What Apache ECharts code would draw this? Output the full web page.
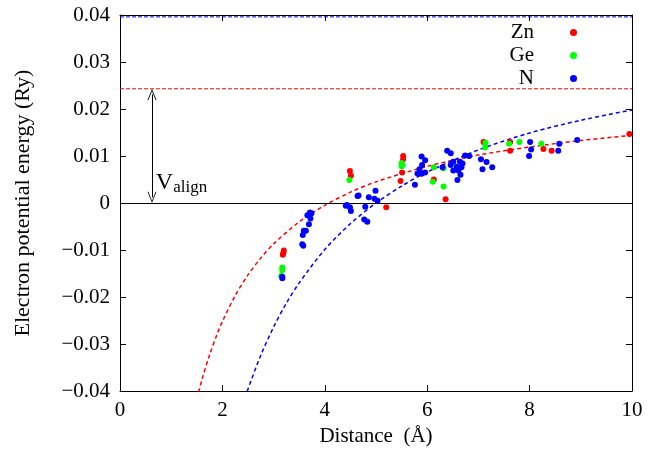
<!DOCTYPE html>
<html><head><meta charset="utf-8">
<script src="https://cdn.jsdelivr.net/npm/echarts@6/dist/echarts.min.js"></script>
<style>html,body{margin:0;padding:0;background:#fff}#c{width:648px;height:463px}</style>
</head><body><div id="c"></div>
<script>
// ---- data ----
const xTickLabels = ['0', '2', '4', '6', '8', '10'];
const yTickLabels = ['\u22120.04', '\u22120.03', '\u22120.02', '\u22120.01', '0', '0.01', '0.02', '0.03', '0.04'];
const seriesNames = ['Zn', 'Ge', 'N'];

const znPoints = [
  [3.20, -0.0101], [3.19, -0.0107], [3.18, -0.0110],
  [4.49, 0.0068], [4.51, 0.0058],
  [5.20, -0.0009],
  [5.53, 0.0100], [5.53, 0.0093], [5.51, 0.0065], [5.48, 0.0047],
  [6.13, 0.0050], [6.36, 0.0008],
  [7.10, 0.0130], [7.62, 0.0130], [7.62, 0.0111],
  [8.27, 0.0115], [8.43, 0.0111], [9.95, 0.0147]
];
const gePoints = [
  [3.17, -0.0137], [3.17, -0.0143], [3.15, -0.0155],
  [4.48, 0.0049],
  [5.50, 0.0085], [5.50, 0.0078], [5.52, 0.0081],
  [6.11, 0.0045], [6.32, 0.0035], [6.13, 0.0076], [6.32, 0.0074],
  [7.14, 0.0128], [7.13, 0.0118],
  [7.60, 0.0126], [7.80, 0.0130], [8.23, 0.0126]
];
const nPoints = [
  [3.17, -0.0160], [3.17, -0.0157],
  [3.58, -0.0091], [3.56, -0.0088], [3.57, -0.0068], [3.59, -0.0059], [3.63, -0.0059],
  [3.69, -0.0045], [3.72, -0.0033], [3.66, -0.0026], [3.71, -0.0020], [3.74, -0.0022],
  [4.41, -0.0006], [4.49, -0.0009], [4.51, -0.0017], [4.43, -0.0004],
  [4.64, 0.0015], [4.66, 0.0016],
  [4.79, -0.0008], [4.77, -0.0035], [4.83, -0.0040],
  [4.86, 0.0012], [4.97, 0.0009], [4.99, 0.0026], [5.03, 0.0005],
  [5.76, 0.0039],
  [5.81, 0.0063], [5.85, 0.0072], [5.89, 0.0062], [5.90, 0.0081], [5.89, 0.0099], [5.96, 0.0091], [5.96, 0.0065],
  [6.30, 0.0076], [6.39, 0.0111], [6.46, 0.0106],
  [6.46, 0.0081], [6.51, 0.0088], [6.51, 0.0069], [6.58, 0.0077], [6.59, 0.0049], [6.61, 0.0069],
  [6.64, 0.0088], [6.65, 0.0060], [6.67, 0.0076], [6.69, 0.0084],
  [6.74, 0.0101], [6.82, 0.0100],
  [7.05, 0.0093], [7.16, 0.0087], [7.08, 0.0072], [7.27, 0.0076],
  [7.99, 0.0100], [8.01, 0.0130], [8.03, 0.0114],
  [8.56, 0.0111], [8.58, 0.0126], [8.93, 0.0134]
];
// fitted curves
const znFit = [
  [1.50, -0.0417], [1.60, -0.0376], [1.75, -0.0323], [1.90, -0.0278], [2.00, -0.0252],
  [2.25, -0.0197], [2.50, -0.0153], [2.75, -0.0117], [3.00, -0.0087], [3.50, -0.0040],
  [4.00, -0.0005], [4.50, 0.0023], [5.00, 0.0045], [6.00, 0.0078], [7.00, 0.0102],
  [8.00, 0.0119], [9.00, 0.0133], [10.0, 0.0144]
];
const nFit = [
  [2.40, -0.0429], [2.50, -0.0396], [2.75, -0.0324], [3.00, -0.0264], [3.25, -0.0213],
  [3.50, -0.0170], [4.00, -0.0099], [4.50, -0.0044], [5.00, 0.0000], [5.50, 0.0036],
  [6.00, 0.0066], [7.00, 0.0113], [8.00, 0.0149], [9.00, 0.0176], [10.0, 0.0198]
];
const znLevel = 0.0243;
const nLevel = 0.0396;
const levelSpan = [0, 10];
const arrowX = 0.625;
const arrowInset = 0.0012;   // arrow heads sit just inside the two levels
const labelPos = [0.70, 0.0043];

// ---- chart ----
const FONT = 'Liberation Serif';
const RED = '#ff0000', GREEN = '#00ff00', BLUE = '#0000ff';
const chevron = 'path://M0,10 L5,0 L10,10 L9,10 L5,2 L1,10 Z';

function yFmt(v) {
  const i = Math.round((v + 0.04) / 0.01);
  return yTickLabels[i] !== undefined ? yTickLabels[i] : '';
}
function xFmt(v) {
  const i = Math.round(v / 2);
  return xTickLabels[i] !== undefined ? xTickLabels[i] : '';
}

const axisCommonX = {
  type: 'value', min: 0, max: 10, interval: 2,
  splitLine: { show: false },
  axisLine: { show: true, onZero: false, lineStyle: { color: '#000', width: 1 } },
  axisTick: { show: true, inside: true, length: 6, lineStyle: { color: '#000' } }
};
const axisCommonY = {
  type: 'value', min: -0.04, max: 0.04, interval: 0.01,
  splitLine: { show: false },
  axisLine: { show: true, onZero: false, lineStyle: { color: '#000', width: 1 } },
  axisTick: { show: true, inside: true, length: 6, lineStyle: { color: '#000' } }
};

function levelSeries(name, level, color) {
  return {
    name: name, type: 'line', data: levelSpan.map(x => [x, level]),
    showSymbol: false, symbol: 'none', clip: true, z: 1, silent: true,
    lineStyle: { color: color, width: 1, type: [4, 2] }
  };
}

const chart = echarts.init(document.getElementById('c'), null, { renderer: 'canvas' });
chart.setOption({
  animation: false,
  backgroundColor: '#fff',
  textStyle: { fontFamily: FONT },
  grid: { left: 120, right: 16, top: 15, bottom: 72, containLabel: false },
  legend: {
    data: seriesNames,
    orient: 'vertical', align: 'right',
    right: 66, top: 17,
    itemWidth: 7, itemHeight: 7, itemGap: 2,
    icon: 'circle',
    textStyle: { fontFamily: FONT, fontSize: 21, color: '#000', width: 40, align: 'right', padding: [0, 31, 0, 0] }
  },
  xAxis: [
    Object.assign({}, axisCommonX, {
      position: 'bottom',
      name: 'Distance  (\u00c5)', nameLocation: 'middle', nameGap: 34,
      nameTextStyle: { fontFamily: FONT, fontSize: 21, color: '#000' },
      axisLabel: { formatter: xFmt, fontFamily: FONT, fontSize: 21, color: '#000', margin: 9 }
    }),
    Object.assign({}, axisCommonX, { position: 'top', axisLabel: { show: false } })
  ],
  yAxis: [
    Object.assign({}, axisCommonY, {
      position: 'left',
      name: 'Electron potential energy (Ry)', nameLocation: 'middle', nameGap: 86,
      nameTextStyle: { fontFamily: FONT, fontSize: 22, color: '#000' },
      axisLabel: { formatter: yFmt, fontFamily: FONT, fontSize: 21, color: '#000', margin: 10 }
    }),
    Object.assign({}, axisCommonY, { position: 'right', axisLabel: { show: false } })
  ],
  series: [
    levelSeries('ZnLevel', znLevel, RED),
    levelSeries('NLevel', nLevel, BLUE),
    {
      name: 'ZnFit', type: 'line', data: znFit, showSymbol: false, symbol: 'none',
      smooth: 0.3, clip: true, z: 2, silent: true,
      lineStyle: { color: RED, width: 1.5, type: [4, 3] }
    },
    {
      name: 'NFit', type: 'line', data: nFit, showSymbol: false, symbol: 'none',
      smooth: 0.3, clip: true, z: 2, silent: true,
      lineStyle: { color: BLUE, width: 1.5, type: [4, 3] }
    },
    {
      name: 'annot', type: 'scatter', data: [], z: 3,
      itemStyle: { color: '#000' },
      markLine: {
        silent: true, animation: false, symbol: 'none', precision: 5,
        lineStyle: { color: '#000', width: 1, type: 'solid' },
        label: { show: false },
        data: [
          { yAxis: 0 },
          [
            { coord: [arrowX, arrowInset], symbol: chevron, symbolSize: [9, 11] },
            { coord: [arrowX, znLevel - arrowInset], symbol: chevron, symbolSize: [9, 11] }
          ]
        ]
      },
      markPoint: {
        silent: true, animation: false,
        symbol: 'circle', symbolSize: 0,
        data: [{ coord: labelPos }],
        label: {
          show: true, position: 'right', distance: 0,
          formatter: '{v|V}{s|align}',
          rich: {
            v: { fontFamily: FONT, fontSize: 24, color: '#000' },
            s: { fontFamily: FONT, fontSize: 17, color: '#000', padding: [10, 0, 0, 0] }
          }
        }
      }
    },
    {
      name: 'Zn', type: 'scatter', data: znPoints, symbol: 'circle', symbolSize: 6, z: 5,
      itemStyle: { color: RED, opacity: 1 }
    },
    {
      name: 'Ge', type: 'scatter', data: gePoints, symbol: 'circle', symbolSize: 6, z: 6,
      itemStyle: { color: GREEN, opacity: 1 }
    },
    {
      name: 'N', type: 'scatter', data: nPoints, symbol: 'circle', symbolSize: 6, z: 7,
      itemStyle: { color: BLUE, opacity: 1 }
    }
  ]
});
</script>
</body></html>
